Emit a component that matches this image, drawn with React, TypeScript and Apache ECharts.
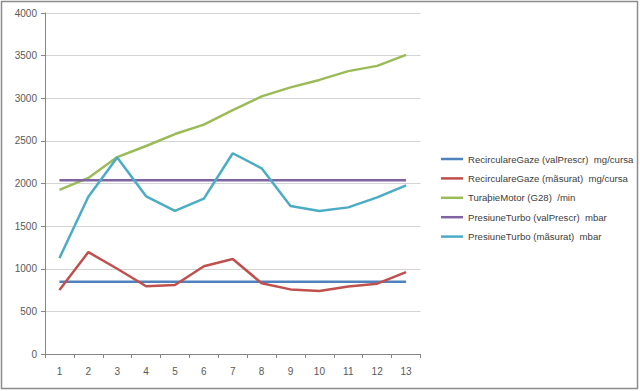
import React, { useEffect, useRef } from "react";
import * as echarts from "echarts";

const categories = ["1", "2", "3", "4", "5", "6", "7", "8", "9", "10", "11", "12", "13"];
const seriesNames = [
  "RecirculareGaze (valPrescr)  mg/cursa",
  "RecirculareGaze (mãsurat)  mg/cursa",
  "TuraþieMotor (G28)  /min",
  "PresiuneTurbo (valPrescr)  mbar",
  "PresiuneTurbo (mãsurat)  mbar",
];
const recircPrescr = [848, 848, 848, 848, 848, 848, 848, 848, 848, 848, 848, 848, 848];
const recircMasurat = [750, 1195, 1000, 795, 810, 1030, 1115, 830, 758, 738, 792, 825, 960];
const turatie = [1925, 2065, 2310, 2440, 2580, 2690, 2860, 3022, 3128, 3215, 3318, 3380, 3508];
const turboPrescr = [2038, 2038, 2038, 2038, 2038, 2038, 2038, 2038, 2038, 2038, 2038, 2038, 2038];
const turboMasurat = [1125, 1845, 2305, 1850, 1678, 1822, 2355, 2178, 1736, 1677, 1720, 1838, 1978];
const seriesColors = ["#4f81bd", "#c0504d", "#9bbb59", "#8064a2", "#4bacc6"];

export default function App() {
  const ref = useRef<HTMLDivElement>(null);
  useEffect(() => {
    if (!ref.current) return;
    const chart = echarts.init(ref.current, undefined, { renderer: "svg" });
    const values = [recircPrescr, recircMasurat, turatie, turboPrescr, turboMasurat];
    const font = "Liberation Sans";
    chart.setOption({
      animation: false,
      backgroundColor: "#ffffff",
      color: seriesColors,
      textStyle: { fontFamily: font },
      grid: { left: 45, right: 219.5, top: 13, bottom: 37, containLabel: false },
      legend: {
        orient: "vertical",
        left: 436,
        top: 148,
        icon: "rect",
        itemWidth: 22,
        itemHeight: 2.5,
        itemGap: 7.4,
        textStyle: { fontFamily: font, fontSize: 9.6, color: "#404040", lineHeight: 12 },
        data: seriesNames,
      },
      xAxis: {
        type: "category",
        data: categories,
        boundaryGap: true,
        axisLine: { lineStyle: { color: "#868686", width: 1 } },
        axisTick: { show: true, length: 4, lineStyle: { color: "#868686" } },
        axisLabel: { fontFamily: font, fontSize: 10, color: "#595959", margin: 12 },
      },
      yAxis: {
        type: "value",
        min: 0,
        max: 4000,
        interval: 500,
        axisLine: { show: true, lineStyle: { color: "#868686", width: 1 } },
        axisTick: { show: true, length: 4, lineStyle: { color: "#868686" } },
        axisLabel: {
          fontFamily: font,
          fontSize: 10,
          color: "#595959",
          margin: 8,
          formatter: (v: number) => String(v),
        },
        splitLine: { lineStyle: { color: "#d4d4d4", width: 1 } },
      },
      graphic: [
        {
          type: "rect",
          shape: { x: 1.5, y: 1.5, width: 636, height: 387 },
          style: { fill: "none", stroke: "#8c8c8c", lineWidth: 1.5 },
          silent: true,
        },
      ],
      series: seriesNames.map((name, i) => ({
        name,
        type: "line",
        data: values[i],
        symbol: "none",
        smooth: false,
        lineStyle: { width: 2.5, color: seriesColors[i] },
        itemStyle: { color: seriesColors[i] },
      })),
    });
    return () => chart.dispose();
  }, []);
  return (
    <div
      ref={ref}
      style={{ position: "fixed", left: 0, top: 0, width: 640, height: 391 }}
    />
  );
}
